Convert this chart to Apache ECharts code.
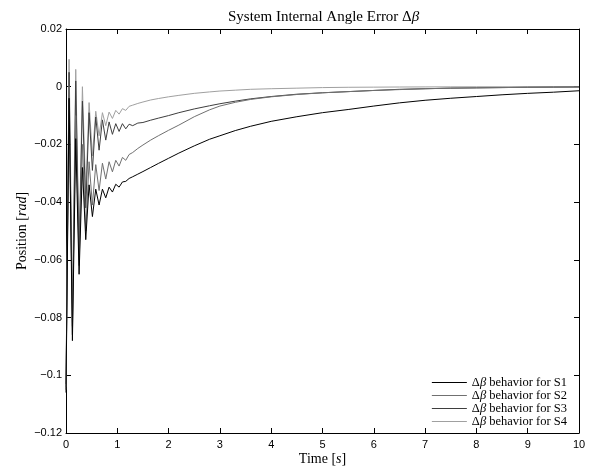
<!DOCTYPE html>
<html>
<head>
<meta charset="utf-8">
<script src="https://cdn.jsdelivr.net/npm/echarts@6/dist/echarts.min.js"></script>
<style>
html,body{margin:0;padding:0;background:#fff;}
#chart{width:592px;height:468px;}
</style>
</head>
<body>
<div id="chart"></div>
<script>
// Shared time samples [s]
const timeS = [0, 0.06, 0.125, 0.19, 0.255, 0.32, 0.385, 0.45, 0.515, 0.58, 0.645, 0.71, 0.775, 0.84, 0.905, 0.97, 1.035, 1.1, 1.165, 1.23,
  1.3, 1.4, 1.5, 1.65, 1.8, 2.0, 2.2, 2.5, 2.8, 3.0, 3.3, 3.6, 4.0, 4.5, 5.0, 5.5, 6.0, 6.5, 7.0, 7.5, 8.0, 8.5, 9.0, 9.5, 10.0];

const s1Vals = [-0.106, -0.004, -0.088, -0.018, -0.065, -0.028, -0.053, -0.034, -0.045, -0.0355, -0.041, -0.0355, -0.0385, -0.0348, -0.0365, -0.0338, -0.0348, -0.0330, -0.0328, -0.0318,
  -0.0312, -0.0303, -0.0294, -0.0280, -0.0266, -0.0248, -0.0230, -0.0205, -0.0182, -0.0170, -0.0152, -0.0137, -0.0120, -0.0104, -0.0090, -0.0079, -0.0067, -0.0056, -0.0047, -0.0040, -0.0034, -0.0028, -0.0023, -0.0019, -0.0014];

const s2Vals = [-0.105, 0.0, -0.083, -0.010, -0.062, -0.020, -0.050, -0.026, -0.041, -0.027, -0.036, -0.0265, -0.032, -0.026, -0.0295, -0.0255, -0.0275, -0.0245, -0.0255, -0.0235,
  -0.0228, -0.0214, -0.0202, -0.0185, -0.0170, -0.0151, -0.0133, -0.0104, -0.0080, -0.0067, -0.0054, -0.0044, -0.0035, -0.0027, -0.0021, -0.0017, -0.0013, -0.0010, -0.0007, -0.0005, -0.0004, -0.0003, -0.0002, -0.00015, -0.0001];

const s3Vals = [-0.103, 0.005, -0.086, 0.002, -0.060, -0.005, -0.042, -0.009, -0.029, -0.0105, -0.022, -0.0115, -0.0185, -0.0122, -0.0165, -0.0128, -0.0155, -0.0128, -0.0146, -0.0130,
  -0.0135, -0.0126, -0.0124, -0.0116, -0.0109, -0.0100, -0.0090, -0.0077, -0.0066, -0.0059, -0.0050, -0.0042, -0.0034, -0.0026, -0.0021, -0.0017, -0.0013, -0.0009, -0.0007, -0.0005, -0.0004, -0.0003, -0.0002, -0.00015, -0.0001];

const s4Vals = [-0.104, 0.0095, -0.075, 0.006, -0.055, 0.0, -0.037, -0.0055, -0.024, -0.0085, -0.017, -0.009, -0.0135, -0.0088, -0.011, -0.0082, -0.0095, -0.0076, -0.0082, -0.0068,
  -0.0064, -0.0058, -0.0053, -0.0046, -0.0041, -0.0035, -0.0030, -0.0023, -0.0018, -0.0015, -0.0012, -0.0009, -0.0007, -0.0005, -0.0003, -0.0002, -0.00015, -0.0001, -0.00007, -0.00005, -0.00003, -0.00002, -0.00001, 0, 0];

const seriesNames = ['S1', 'S2', 'S3', 'S4'];
const seriesColors = ['#000000', '#707070', '#3e3e3e', '#a0a0a0'];
const xTicks = [0, 10, 1];
const yTicks = [-0.12, 0.02, 0.02];

const allVals = [s1Vals, s2Vals, s3Vals, s4Vals];
const serif = '"Liberation Serif", "Times New Roman", serif';
const sans = '"Liberation Sans", Arial, sans-serif';

const chart = echarts.init(document.getElementById('chart'), null, {renderer: 'canvas'});

const baseAxisLine = {show: true, onZero: false, lineStyle: {color: '#000', width: 1}};
const baseTick = {show: true, inside: true, length: 5, lineStyle: {color: '#000', width: 1}};

const option = {
  animation: false,
  backgroundColor: '#fff',
  title: {
    text: '{n|System Internal Angle Error Δ}{i|β}',
    left: 223, top: 5,
    textStyle: {
      fontWeight: 'normal',
      rich: {
        n: {fontFamily: serif, fontSize: 15, fontWeight: 'normal', color: '#000'},
        i: {fontFamily: serif, fontSize: 15, fontWeight: 'normal', fontStyle: 'italic', color: '#000'}
      }
    }
  },
  legend: {
    data: seriesNames,
    orient: 'vertical',
    right: 25, top: 376,
    padding: 0,
    itemGap: 0,
    itemWidth: 35, itemHeight: 1,
    icon: 'rect',
    formatter: function (name) { return '{n|Δ}{i|β}{n| behavior for ' + name + '}'; },
    textStyle: {
      rich: {
        n: {fontFamily: serif, fontSize: 12.5, color: '#000', lineHeight: 11.8},
        i: {fontFamily: serif, fontSize: 12.5, fontStyle: 'italic', color: '#000', lineHeight: 11.8}
      }
    }
  },
  grid: {left: 66, right: 13, top: 29, bottom: 35, containLabel: false, outerBoundsMode: 'none'},
  xAxis: [
    {
      type: 'value', position: 'bottom', min: xTicks[0], max: xTicks[1], interval: xTicks[2],
      axisLine: baseAxisLine, axisTick: baseTick, splitLine: {show: false},
      axisLabel: {color: '#000', fontFamily: sans, fontSize: 11, margin: 6},
      name: 'Time [{i|s}]', nameLocation: 'middle', nameGap: 19, nameMoveOverlap: false,
      nameTextStyle: {
        fontFamily: serif, fontSize: 14, color: '#000',
        rich: {i: {fontFamily: serif, fontSize: 14, fontStyle: 'italic', color: '#000'}}
      }
    },
    {
      type: 'value', position: 'top', min: xTicks[0], max: xTicks[1], interval: xTicks[2],
      axisLine: baseAxisLine, axisTick: baseTick, splitLine: {show: false},
      axisLabel: {show: false}
    }
  ],
  yAxis: [
    {
      type: 'value', position: 'left', min: yTicks[0], max: yTicks[1], interval: yTicks[2],
      axisLine: baseAxisLine, axisTick: baseTick, splitLine: {show: false},
      axisLabel: {
        color: '#000', fontFamily: sans, fontSize: 11, margin: 4,
        formatter: function (v) {
          const r = Math.round(v * 1000) / 1000;
          if (r === 0) return '0';
          return (r < 0 ? '\u2212' : '') + String(Math.abs(r));
        }
      },
      name: 'Position [{i|rad}]', nameLocation: 'middle', nameGap: 37, nameRotate: 90, nameMoveOverlap: false,
      nameTextStyle: {
        fontFamily: serif, fontSize: 14, color: '#000',
        rich: {i: {fontFamily: serif, fontSize: 14, fontStyle: 'italic', color: '#000'}}
      }
    },
    {
      type: 'value', position: 'right', min: yTicks[0], max: yTicks[1], interval: yTicks[2],
      axisLine: baseAxisLine, axisTick: baseTick, splitLine: {show: false},
      axisLabel: {show: false}
    }
  ],
  series: seriesNames.map(function (name, k) {
    return {
      name: name,
      type: 'line',
      xAxisIndex: 0, yAxisIndex: 0,
      showSymbol: false, symbol: 'none',
      smooth: false,
      color: seriesColors[k],
      lineStyle: {color: seriesColors[k], width: 1},
      itemStyle: {color: seriesColors[k]},
      data: timeS.map(function (t, i) { return [t, allVals[k][i]]; }),
      z: 4 - k
    };
  })
};
chart.setOption(option);
</script>
</body>
</html>
